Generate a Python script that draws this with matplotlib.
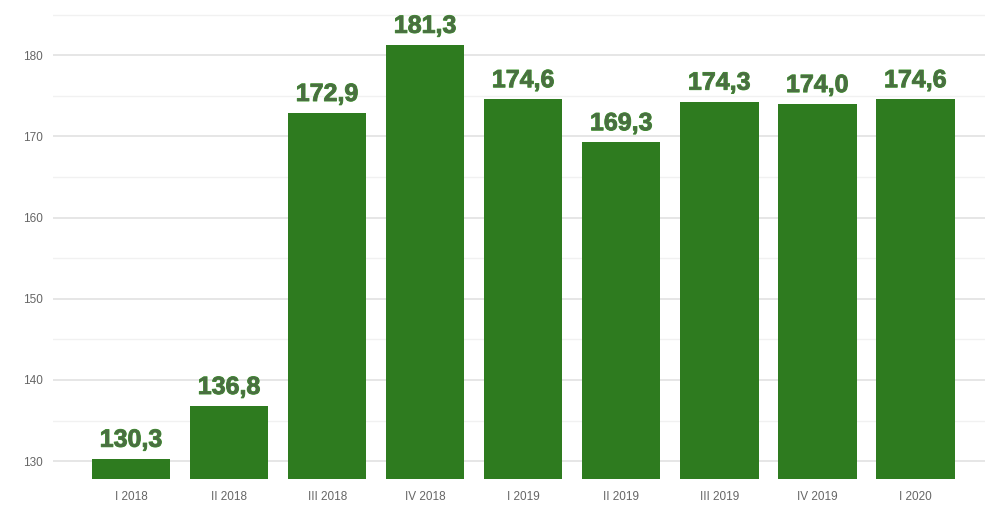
import matplotlib
matplotlib.use("Agg")
import matplotlib.pyplot as plt
import matplotlib.patheffects as pe
from matplotlib.ticker import MultipleLocator

categories = ["I 2018", "II 2018", "III 2018", "IV 2018", "I 2019", "II 2019", "III 2019", "IV 2019", "I 2020"]
values = [130.3, 136.8, 172.9, 181.3, 174.6, 169.3, 174.3, 174.0, 174.6]
labels = ["130,3", "136,8", "172,9", "181,3", "174,6", "169,3", "174,3", "174,0", "174,6"]

W, H = 994, 505
fig = plt.figure(figsize=(W / 100, H / 100), dpi=100)
left, right, bottom, top = 53, 985, 479, 5
ax = fig.add_axes([left / W, 1 - bottom / H, (right - left) / W, (bottom - top) / H])

x = list(range(len(categories)))
ax.bar(x, values, width=0.8, color="#2e7b1f", zorder=3, bottom=0)
ax.set_ylim(127.8, 186.2)
ax.set_xlim(-0.796, 8.71)

ax.yaxis.set_major_locator(MultipleLocator(10))
ax.yaxis.set_minor_locator(MultipleLocator(5))
ax.grid(axis="y", which="major", color="#e2e2e2", linewidth=1.2, zorder=0)
ax.grid(axis="y", which="minor", color="#f1f1f1", linewidth=1.0, zorder=0)
ax.set_xticks(x)
ax.set_xticklabels(categories)
ax.tick_params(axis="both", which="both", length=0)
ax.tick_params(axis="x", pad=9, labelsize=8.5, labelcolor="#666666")
ax.tick_params(axis="y", pad=7, labelsize=8.5, labelcolor="#666666")
for lbl in ax.get_xticklabels() + ax.get_yticklabels():
    lbl.set_family("Liberation Sans")
for s in ax.spines.values():
    s.set_visible(False)

for xi, v, t in zip(x, values, labels):
    ax.annotate(t, (xi, v), xytext=(0, 5), textcoords="offset points",
                ha="center", va="bottom", fontsize=18, fontweight="bold",
                family="Liberation Sans", color="#4a6e42",
                path_effects=[pe.withStroke(linewidth=0.7, foreground="#3d9a2a")],
                zorder=4)

fig.savefig("out.png", dpi=100)
